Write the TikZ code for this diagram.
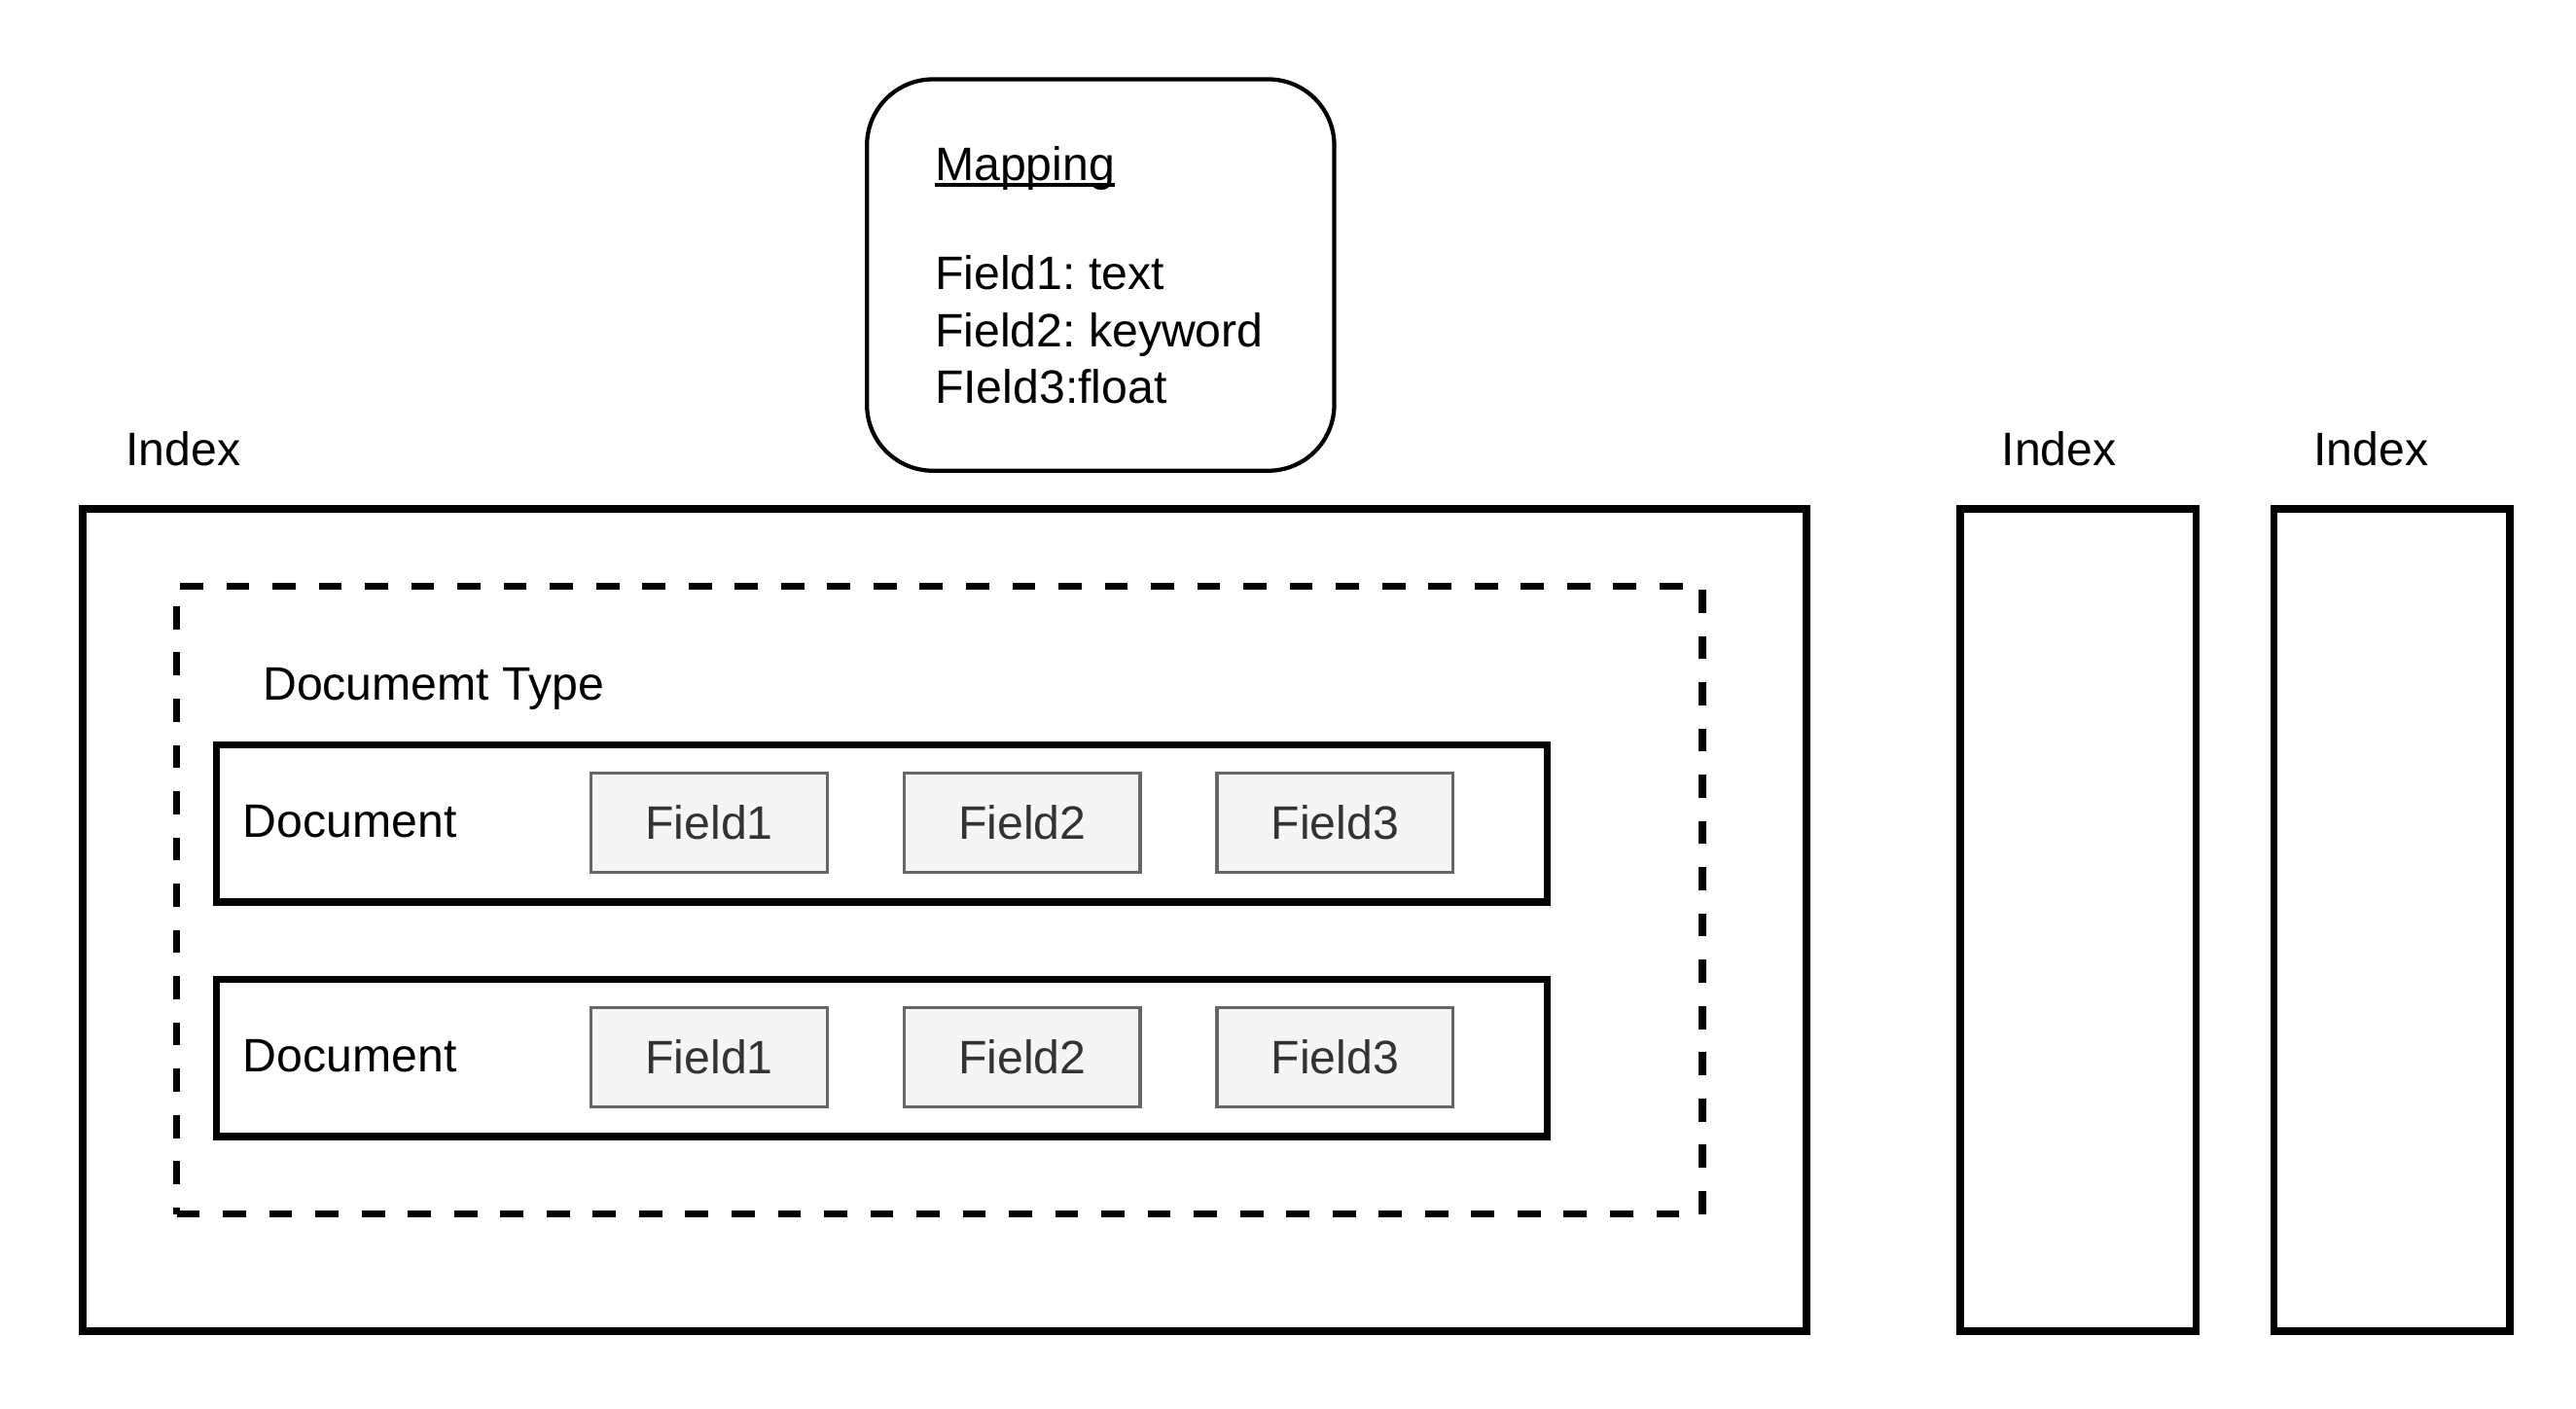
\documentclass[tikz,border=0pt]{standalone}
\usepackage{fontspec}
\setmainfont{Liberation Sans}
\frenchspacing
\definecolor{fieldfill}{HTML}{F5F5F5}
\definecolor{fieldline}{HTML}{666666}
\definecolor{fieldtext}{HTML}{333333}
\tikzset{
  box/.style={draw=black, line width=4.5pt, inner sep=0pt},
  typebox/.style={draw=black, line width=4.5pt, dash pattern=on 14pt off 14pt, inner sep=0pt},
  mapbox/.style={draw=black, line width=2.5pt, rounded corners=40pt, inner sep=0pt},
  fieldbox/.style={draw=fieldline, fill=fieldfill, text=fieldtext, line width=2pt,
    minimum width=143pt, minimum height=60pt, inner sep=0pt},
  lbl/.style={inner sep=0pt, anchor=base west}
}
\begin{document}
\begin{tikzpicture}[x=1pt, y=-1pt, every node/.style={font=\fontsize{28.4}{34.5}\selectfont}]
    \useasboundingbox (0,0) rectangle (1560,853);
    % mapping
    \node[mapbox, minimum width=283pt, minimum height=237pt] (mapping) at (666.5,166.5) {};
    \node[lbl] (maptitle) at (566,109) {Mapping};
    \draw[line width=2.3pt] ([yshift=-3pt]maptitle.base west) -- ([yshift=-3pt]maptitle.base east);
    \node[lbl] (map1) at (566,175) {Field1: text};
    \node[lbl] (map2) at (566,210) {Field2: keyword};
    \node[lbl] (map3) at (566,244) {FIeld3:float};
    % indexes
    \node[box, minimum width=1044pt, minimum height=498pt] (index1) at (572,557) {};
    \node[box, minimum width=143pt, minimum height=498pt] (index2) at (1258.5,557) {};
    \node[box, minimum width=143pt, minimum height=498pt] (index3) at (1448.5,557) {};
    \node[lbl] (idxlbl1) at (76,282) {Index};
    \node[inner sep=0pt, anchor=base] (idxlbl2) at (1247,282) {Index};
    \node[inner sep=0pt, anchor=base] (idxlbl3) at (1436,282) {Index};
    % document type
    \node[typebox, minimum width=924pt, minimum height=380pt] (doctype) at (569,545) {};
    \node[lbl] (doctypelbl) at (159,424) {Documemt Type};
    % documents
    \node[box, minimum width=806pt, minimum height=95pt] (doc1) at (534,498.5) {};
    \node[box, minimum width=806pt, minimum height=95pt] (doc2) at (534,640.5) {};
    \node[lbl] (doclbl1) at (147,507) {Document};
    \node[lbl] (doclbl2) at (147,649) {Document};
    \foreach \i/\x in {1/429.5,2/619,3/808.5} {
        \node[fieldbox] (fa\i) at (\x,498) {Field\i};
        \node[fieldbox] (fb\i) at (\x,640) {Field\i};
    }
\end{tikzpicture}
\end{document}
